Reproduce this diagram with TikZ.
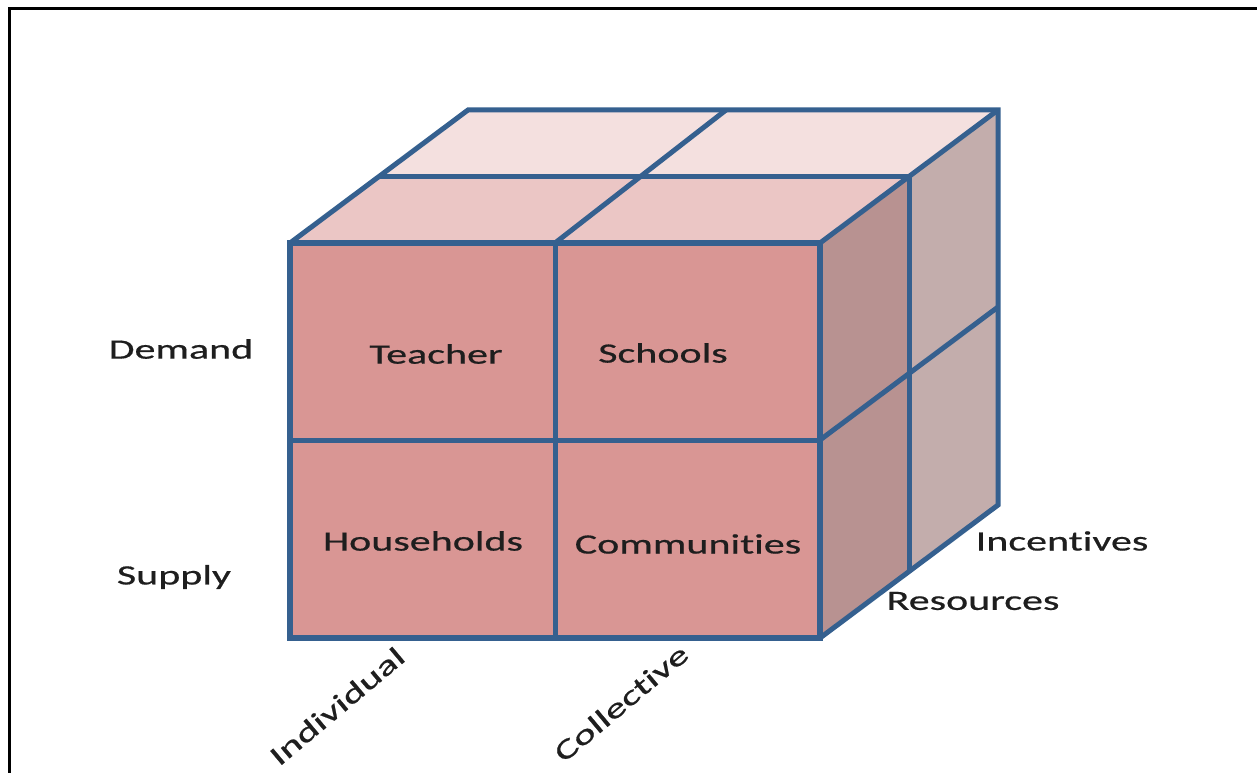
\documentclass[tikz,border=0pt]{standalone}
\usepackage{fontspec}
\setmainfont{Carlito}[FakeStretch=1.5, FakeBold=0.6, Ligatures=NoCommon]
\definecolor{edge}{HTML}{35608F}
\definecolor{frontc}{HTML}{D99694}
\definecolor{topfront}{HTML}{EBC6C5}
\definecolor{topback}{HTML}{F4E0DF}
\definecolor{sidefront}{HTML}{B89291}
\definecolor{sideback}{HTML}{C3ADAC}
\definecolor{txt}{HTML}{1E1E1E}
\tikzset{
  lbl/.style={font=\fontsize{28}{30}\selectfont, text=txt, inner sep=0pt},
  cubeline/.style={draw=edge, line width=5pt, line join=miter},
}
\begin{document}
\begin{tikzpicture}[x=1pt,y=-1pt]
\useasboundingbox (0,0) rectangle (1257,773);
\fill[white] (0,0) rectangle (1257,773);
% frame
\draw[black, line width=3pt] (1257,9) -- (9,9) -- (9,773);
% coordinates
\coordinate (A) at (290,243);
\coordinate (B) at (820,243);
\coordinate (C) at (820,638);
\coordinate (D) at (290,638);
\coordinate (Tm) at (555,243);
\coordinate (Bm) at (555,638);
\coordinate (Lm) at (290,440);
\coordinate (Rm) at (820,440);
\coordinate (A1) at (379,176.5);
\coordinate (B1) at (909,176.5);
\coordinate (C1) at (909,571.5);
\coordinate (A2) at (468,110);
\coordinate (B2) at (998,110);
\coordinate (C2) at (998,505);
\coordinate (Tb) at (726,110);
\coordinate (Sm2) at (998,307);
% faces
\fill[topback] (A1) -- (B1) -- (B2) -- (A2) -- cycle;
\fill[topfront] (A) -- (B) -- (B1) -- (A1) -- cycle;
\fill[sideback] (B1) -- (B2) -- (C2) -- (C1) -- cycle;
\fill[sidefront] (B) -- (B1) -- (C1) -- (C) -- cycle;
\fill[frontc] (A) rectangle (C);
% lines
\draw[cubeline] (A) -- (A2) -- (B2) -- (C2) -- (C);
\draw[cubeline] (B) -- (B2);
\draw[cubeline] (A1) -- (B1) -- (C1);
\draw[cubeline] (Tm) -- (Tb);
\draw[cubeline] (Rm) -- (Sm2);
\draw[cubeline] (Tm) -- (Bm);
\draw[cubeline] (Lm) -- (Rm);
\draw[draw=edge, line width=6pt, line join=miter] (A) rectangle (C);
% labels
\node[lbl] (demand) at (181,349) {Demand};
\node[lbl] (supply) at (174,577) {Supply};
\node[lbl] (teacher) at (436,354) {Teacher};
\node[lbl] (schools) at (663,353) {Schools};
\node[lbl] (households) at (423,541) {Households};
\node[lbl] (communities) at (688,544) {Communities};
\node[lbl] (incentives) at (1062,541) {Incentives};
\node[lbl] (resources) at (973,601) {Resources};
\node[lbl, rotate=40] (individual) at (337,706) {Individual};
\node[lbl, rotate=40] (collective) at (621,703) {Collective};
\end{tikzpicture}
\end{document}
